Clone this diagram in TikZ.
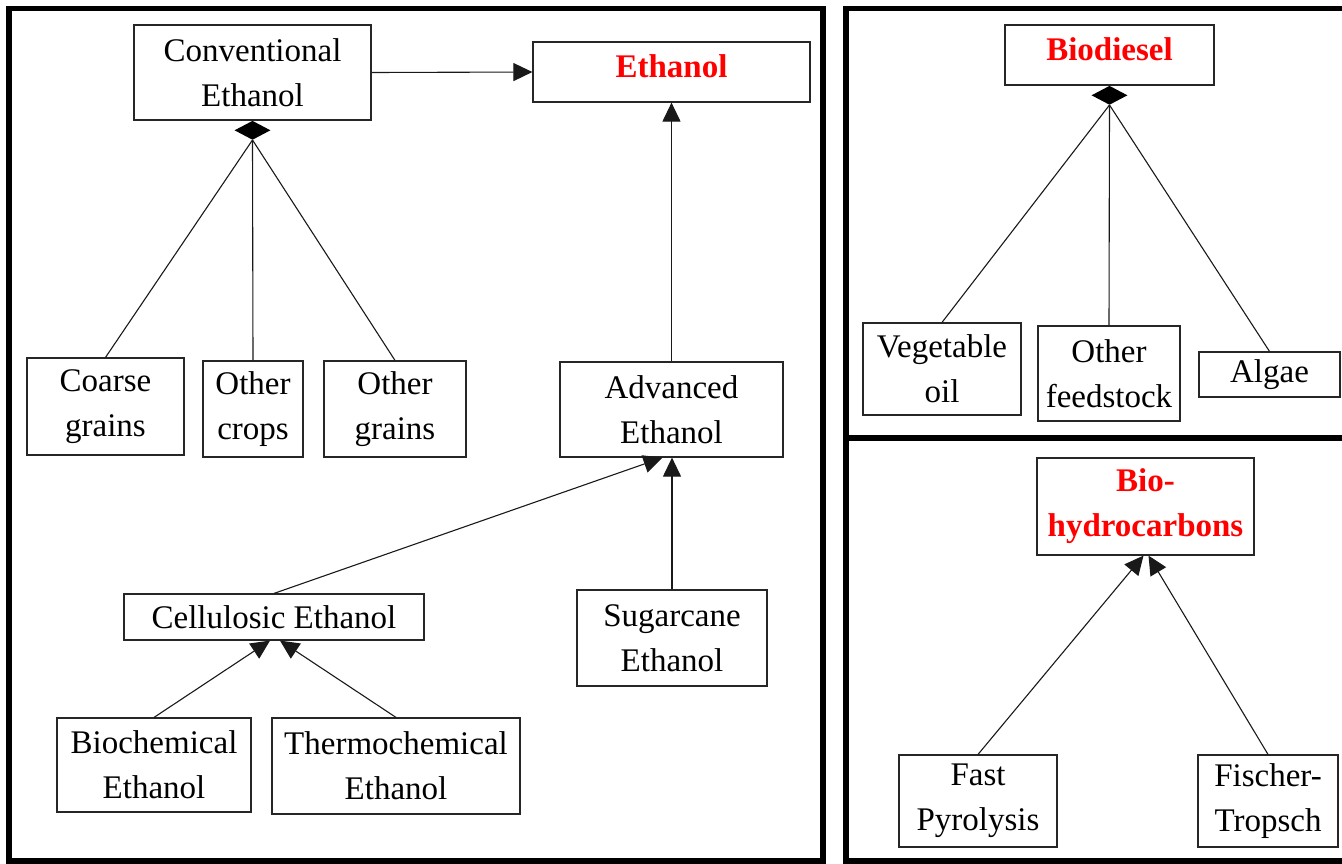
\documentclass[tikz,border=0pt]{standalone}
\usepackage{fontspec}
\setmainfont{Liberation Serif}
\usetikzlibrary{arrows.meta,shapes.geometric}
\begin{document}
\begin{tikzpicture}[x=1pt,y=-1pt,
  box/.style={draw=black!85, line width=1.2pt, fill=white, align=center,
    inner sep=0pt, font=\fontsize{33}{45}\selectfont},
  title/.style={box, text=red, font=\fontsize{33}{45}\selectfont\bfseries},
  link/.style={line width=1.1pt, draw=black!90},
  arrow/.style={link, -{Triangle[length=19pt,width=18pt]}},
  agg/.style={shape=diamond, fill=black, draw=none, minimum width=36pt,
    minimum height=19pt, inner sep=0pt, anchor=north},
  panel/.style={line width=5.5pt, draw=black},
]
\clip (0,0) rectangle (1342,863);

% panels
\draw[panel] (9,8.5) rectangle (823,861);
\draw[panel] (846,8.5) rectangle (1352,438);
\draw[panel] (846,438) rectangle (1352,861);

% ---- ethanol ----
\node[title, minimum width=277pt, minimum height=60pt, text depth=11pt] (eth) at (671.5,72) {Ethanol};
\node[box, minimum width=237pt, minimum height=95pt] (conv) at (252.5,72.5) {Conventional\\Ethanol};
\node[box, minimum width=157pt, minimum height=97pt] (coarse) at (105.5,406.5) {Coarse\\grains};
\node[box, minimum width=100pt, minimum height=96pt] (ocrops) at (253,409) {Other\\crops};
\node[box, minimum width=142pt, minimum height=96pt] (ograins) at (395,409) {Other\\grains};
\node[box, minimum width=223pt, minimum height=95pt] (adv) at (671.5,409.5) {Advanced\\Ethanol};
\node[box, minimum width=300pt, minimum height=46pt] (cell) at (274,617) {Cellulosic Ethanol};
\node[box, minimum width=190pt, minimum height=96pt] (sugar) at (672,638) {Sugarcane\\Ethanol};
\node[box, minimum width=194pt, minimum height=94pt] (bioch) at (154,765) {Biochemical\\Ethanol};
\node[box, minimum width=248pt, minimum height=96pt] (thermo) at (396,766) {Thermochemical\\Ethanol};

\node[agg] (cd) at (conv.south) {};
\draw[link] (cd.south) -- (coarse.north);
\draw[link] (cd.south) -- (ocrops.north);
\draw[link] (cd.south) -- (ograins.north);

\draw[arrow] (conv.east) -- (eth.west);
\draw[arrow] (adv.north) -- (eth.south);
\draw[arrow] (cell.north) -- ([xshift=-9pt]adv.south);
\draw[arrow] (sugar.north) -- (adv.south -| sugar.north);
\draw[arrow] (bioch.north) -- ([xshift=-4pt]cell.south);
\draw[arrow] (thermo.north) -- ([xshift=6pt]cell.south);

% ---- biodiesel ----
\node[title, minimum width=209pt, minimum height=60pt, text depth=11pt] (biod) at (1109.5,55) {Biodiesel};
\node[box, minimum width=158pt, minimum height=92pt] (veg) at (942,369) {Vegetable\\oil};
\node[box, minimum width=142pt, minimum height=95pt] (ofeed) at (1109,373.5) {Other\\feedstock};
\node[box, minimum width=141pt, minimum height=45pt] (algae) at (1269.5,374.5) {Algae};

\node[agg] (bd) at (biod.south) {};
\draw[link] (bd.south) -- (veg.north);
\draw[link] (bd.south) -- (ofeed.north);
\draw[link] (bd.south) -- (algae.north);

% ---- bio-hydrocarbons ----
\node[title, minimum width=217pt, minimum height=97pt] (bioh) at (1145.5,506.5) {Bio-\\hydrocarbons};
\node[box, minimum width=158pt, minimum height=92pt] (fast) at (978,801) {Fast\\Pyrolysis};
\node[box, minimum width=140pt, minimum height=92pt] (ft) at (1268,801) {Fischer-\\Tropsch};

\draw[arrow] (fast.north) -- ([xshift=-2pt]bioh.south);
\draw[arrow] (ft.north) -- ([xshift=3pt]bioh.south);
\end{tikzpicture}
\end{document}
